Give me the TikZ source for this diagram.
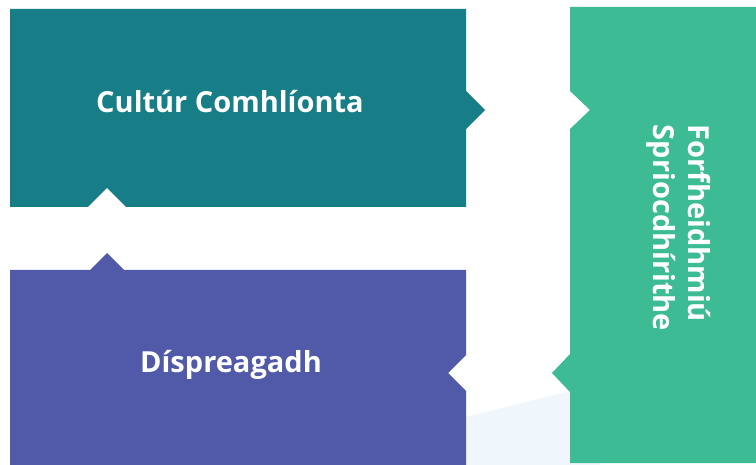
\documentclass[tikz,border=0pt]{standalone}
\usepackage{fontspec}
\setmainfont{Open Sans}
\definecolor{cteal}{HTML}{177D86}
\definecolor{cpurple}{HTML}{505AA8}
\definecolor{cgreen}{HTML}{3CBB94}
\definecolor{clight}{HTML}{EFF7FD}
\tikzset{
  lbl/.style={text=white, font=\fontsize{29bp}{35bp}\selectfont\bfseries, inner sep=0pt}
}
\begin{document}
\begin{tikzpicture}[x=1bp,y=-1bp]
\useasboundingbox (0,0) rectangle (756,465);
\fill[white] (0,0) rectangle (756,465);
\fill[clight] (400,433.5) -- (600,383.5) -- (600,465) -- (400,465) -- cycle;
\fill[cteal] (10,9) -- (466,9) -- (466,91) -- (485,110) -- (466,129) -- (466,207) -- (126,207) -- (107,188) -- (88,207) -- (10,207) -- cycle;
\fill[cpurple] (10,270) -- (90,270) -- (107,253) -- (124,270) -- (466,270) -- (466,355) -- (448,373) -- (466,391) -- (466,465) -- (10,465) -- cycle;
\fill[cgreen] (570,7) -- (756,7) -- (756,463) -- (570,463) -- (570,392) -- (552,373) -- (570,354) -- (570,129) -- (590,110) -- (570,91) -- cycle;
\node[lbl, anchor=base] (cultur) at (230,113) {Cultúr Comhlíonta};
\node[lbl, anchor=base] (disp) at (231,373) {Díspreagadh};
\node[lbl, align=left, rotate=-90, anchor=center] (forf) at (679,228) {Forfheidhmiú\\Spriocdhírithe};
\end{tikzpicture}
\end{document}
